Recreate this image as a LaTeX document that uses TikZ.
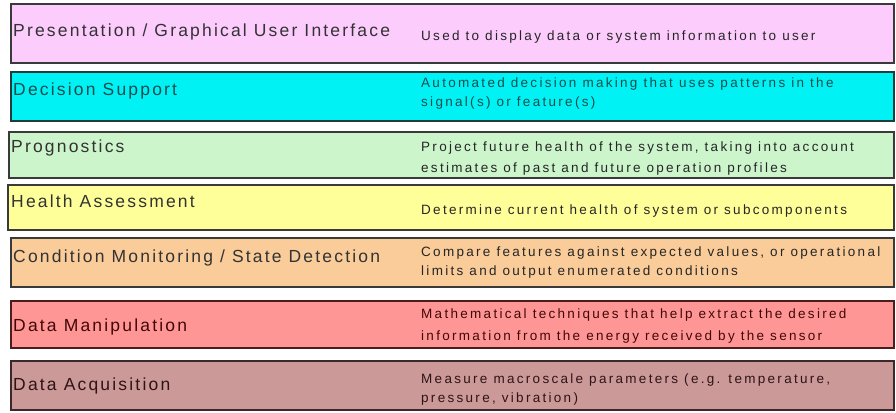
\documentclass[tikz,border=0pt]{standalone}
\usepackage{fontspec}
\setmainfont{Liberation Sans}
\newfontfamily\labfont[LetterSpace=12.5]{Liberation Sans}
\newfontfamily\descfont[LetterSpace=17]{Liberation Sans}
\definecolor{cPink}{HTML}{FCCCFC}
\definecolor{cCyan}{HTML}{00F2F5}
\definecolor{cGreen}{HTML}{CCF5CC}
\definecolor{cYellow}{HTML}{FFFF99}
\definecolor{cPeach}{HTML}{FACC99}
\definecolor{cRed}{HTML}{FF9696}
\definecolor{cRose}{HTML}{CC9999}
\definecolor{bDark}{HTML}{3A3A3A}
\definecolor{bTeal}{HTML}{1E3C3C}
\definecolor{bMaroon}{HTML}{4A1E1E}
\definecolor{bBrown}{HTML}{3C2828}
\definecolor{tTeal}{HTML}{104E4E}
\definecolor{tMaroon}{HTML}{420808}
\definecolor{tBrown}{HTML}{2E1414}
\tikzset{
  layerbox/.style={draw=bDark, line width=1.6pt, inner sep=0pt, outer sep=0pt},
  layerlab/.style={anchor=base west, inner sep=0pt, font=\labfont\fontsize{17.5}{20}\selectfont, text=black!80},
  layerdesc/.style={anchor=base west, inner sep=0pt, font=\descfont\fontsize{13.5}{15}\selectfont, text=black!85}
}
\begin{document}
\begin{tikzpicture}[x=1pt,y=-1pt]
\useasboundingbox[fill=white] (0,0) rectangle (896,412);
% boxes
\path[layerbox, fill=cPink]   (11,4)   rectangle (894,63)  coordinate (b1);
\path[layerbox, fill=cCyan, draw=bTeal] (11,72) rectangle (894,121) coordinate (b2);
\path[layerbox, fill=cGreen]  (9,132)  rectangle (894,178) coordinate (b3);
\path[layerbox, fill=cYellow] (8,185)  rectangle (894,230) coordinate (b4);
\path[layerbox, fill=cPeach]  (11,238) rectangle (894,287) coordinate (b5);
\path[layerbox, fill=cRed, draw=bMaroon]   (11,301) rectangle (894,348) coordinate (b6);
\path[layerbox, fill=cRose, draw=bBrown]  (11,361) rectangle (894,410) coordinate (b7);
% labels
\node[layerlab] (l1) at (13,37) {Presentation / Graphical User Interface};
\node[layerlab, text=tTeal] (l2) at (13,95) {Decision Support};
\node[layerlab] (l3) at (11,152) {Prognostics};
\node[layerlab] (l4) at (11,207) {Health Assessment};
\node[layerlab] (l5) at (13,262) {Condition Monitoring / State Detection};
\node[layerlab, text=tMaroon] (l6) at (13,331) {Data Manipulation};
\node[layerlab, text=tBrown] (l7) at (13,390) {Data Acquisition};
% descriptions
\node[layerdesc] (d1) at (421,41) {Used to display data or system information to user};
\node[layerdesc, text=tTeal] (d2a) at (421,87) {Automated decision making that uses patterns in the};
\node[layerdesc, text=tTeal] (d2b) at (421,106) {signal(s) or feature(s)};
\node[layerdesc] (d3a) at (421,151) {Project future health of the system, taking into account};
\node[layerdesc] (d3b) at (421,172) {estimates of past and future operation profiles};
\node[layerdesc] (d4) at (421,214) {Determine current health of system or subcomponents};
\node[layerdesc] (d5a) at (421,256) {Compare features against expected values, or operational};
\node[layerdesc] (d5b) at (421,275) {limits and output enumerated conditions};
\node[layerdesc, text=tMaroon] (d6a) at (421,318) {Mathematical techniques that help extract the desired};
\node[layerdesc, text=tMaroon] (d6b) at (421,340) {information from the energy received by the sensor};
\node[layerdesc, text=tBrown] (d7a) at (421,383) {Measure macroscale parameters (e.g. temperature,};
\node[layerdesc, text=tBrown] (d7b) at (421,402) {pressure, vibration)};
\end{tikzpicture}
\end{document}
